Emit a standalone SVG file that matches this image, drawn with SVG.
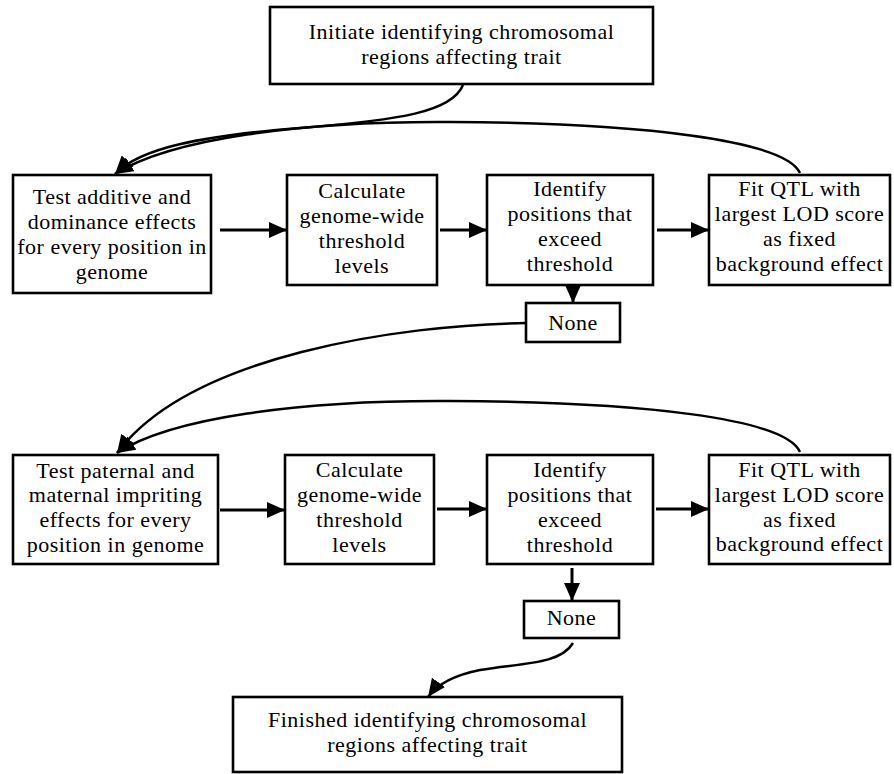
<svg xmlns="http://www.w3.org/2000/svg" width="894" height="774" viewBox="0 0 894 774">
<style>
.box{fill:#fff;stroke:#000;stroke-width:2.6}
.t{font-family:"Liberation Serif","Times New Roman",serif;font-size:22px;letter-spacing:0.5px;fill:#000;text-anchor:middle}
.c{fill:none;stroke:#000;stroke-width:2.5}
.s{fill:none;stroke:#000;stroke-width:3}
</style>
<defs>
<marker id="ah" viewBox="0 0 18 16" refX="18" refY="8" markerWidth="18" markerHeight="16" markerUnits="userSpaceOnUse" orient="auto">
<path d="M0,0 L18,8 L0,16 z" fill="#000"/>
</marker>
</defs>
<rect width="894" height="774" fill="#fff"/>
<g id="connectors">
<path class="c" d="M463 85 C452 112 400 120 300 128 C200 136 140 148 115 174" marker-end="url(#ah)"/>
<path class="c" d="M800 173 C785 140 640 123 450 122 C300 121 170 139 115 174" marker-end="url(#ah)"/>
<path class="s" d="M220 230 L287 230" marker-end="url(#ah)"/>
<path class="s" d="M440 230 L487 230" marker-end="url(#ah)"/>
<path class="s" d="M657 230 L709 230" marker-end="url(#ah)"/>
<path class="s" d="M573 285 L573 303" marker-end="url(#ah)"/>
<path class="c" d="M526 323 C400 325 190 355 117 453" marker-end="url(#ah)"/>
<path class="c" d="M800 452 C785 418 640 402 450 401 C300 400 170 418 117 453" marker-end="url(#ah)"/>
<path class="s" d="M220 510 L285 510" marker-end="url(#ah)"/>
<path class="s" d="M437 509 L487 509" marker-end="url(#ah)"/>
<path class="s" d="M656 509 L709 509" marker-end="url(#ah)"/>
<path class="s" d="M572 568 L572 601" marker-end="url(#ah)"/>
<path class="c" d="M573 643 C560 665 520 663 480 670 C455 675 438 683 428 697" marker-end="url(#ah)"/>
</g>
<g id="start">
<rect class="box" x="270" y="7" width="383" height="77"/>
<text class="t" x="461.5" y="39">Initiate identifying chromosomal</text>
<text class="t" x="461.5" y="64">regions affecting trait</text>
</g>
<g id="test-additive">
<rect class="box" x="13" y="175" width="198" height="118"/>
<text class="t" x="112" y="204">Test additive and</text>
<text class="t" x="112" y="229">dominance effects</text>
<text class="t" x="112" y="254">for every position in</text>
<text class="t" x="112" y="279">genome</text>
</g>
<g id="calc1">
<rect class="box" x="287" y="175" width="150" height="110"/>
<text class="t" x="362" y="198">Calculate</text>
<text class="t" x="362" y="223">genome-wide</text>
<text class="t" x="362" y="248">threshold</text>
<text class="t" x="362" y="273">levels</text>
</g>
<g id="identify1">
<rect class="box" x="487" y="175" width="166" height="110"/>
<text class="t" x="570" y="196">Identify</text>
<text class="t" x="570" y="221">positions that</text>
<text class="t" x="570" y="246">exceed</text>
<text class="t" x="570" y="271">threshold</text>
</g>
<g id="fit1">
<rect class="box" x="709" y="175" width="181" height="110"/>
<text class="t" x="799.5" y="196">Fit QTL with</text>
<text class="t" x="799.5" y="221">largest LOD score</text>
<text class="t" x="799.5" y="246">as fixed</text>
<text class="t" x="799.5" y="271">background effect</text>
</g>
<g id="none1">
<rect class="box" x="526" y="303" width="94" height="39"/>
<text class="t" x="573" y="330">None</text>
</g>
<g id="test-imprinting">
<rect class="box" x="13" y="455" width="205" height="109"/>
<text class="t" x="115.5" y="478">Test paternal and</text>
<text class="t" x="115.5" y="502">maternal impriting</text>
<text class="t" x="115.5" y="527">effects for every</text>
<text class="t" x="115.5" y="552">position in genome</text>
</g>
<g id="calc2">
<rect class="box" x="285" y="455" width="149" height="109"/>
<text class="t" x="359.5" y="477">Calculate</text>
<text class="t" x="359.5" y="502">genome-wide</text>
<text class="t" x="359.5" y="527">threshold</text>
<text class="t" x="359.5" y="552">levels</text>
</g>
<g id="identify2">
<rect class="box" x="487" y="455" width="166" height="109"/>
<text class="t" x="570" y="477">Identify</text>
<text class="t" x="570" y="502">positions that</text>
<text class="t" x="570" y="527">exceed</text>
<text class="t" x="570" y="552">threshold</text>
</g>
<g id="fit2">
<rect class="box" x="709" y="455" width="181" height="109"/>
<text class="t" x="799.5" y="477">Fit QTL with</text>
<text class="t" x="799.5" y="502">largest LOD score</text>
<text class="t" x="799.5" y="527">as fixed</text>
<text class="t" x="799.5" y="551">background effect</text>
</g>
<g id="none2">
<rect class="box" x="524" y="601" width="95" height="37"/>
<text class="t" x="571.5" y="625">None</text>
</g>
<g id="finish">
<rect class="box" x="233" y="697" width="389" height="75"/>
<text class="t" x="427.5" y="727">Finished identifying chromosomal</text>
<text class="t" x="427.5" y="752">regions affecting trait</text>
</g>
</svg>
